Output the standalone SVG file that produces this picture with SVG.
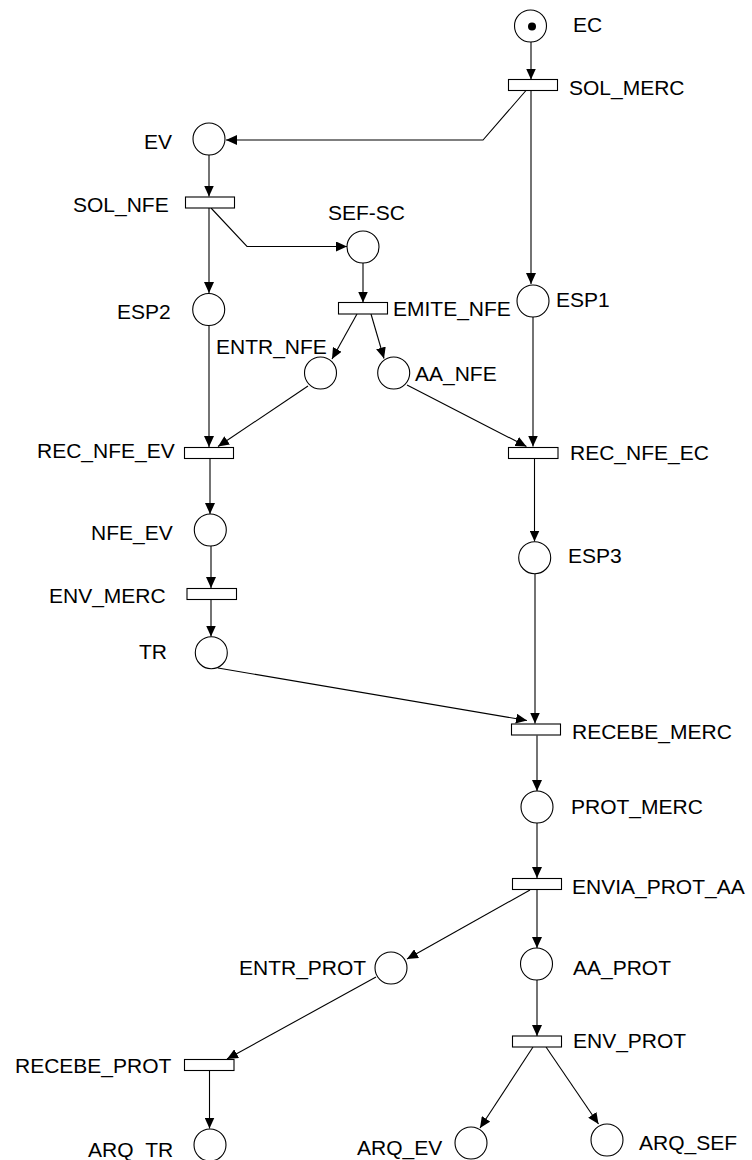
<svg xmlns="http://www.w3.org/2000/svg" width="752" height="1160" viewBox="0 0 752 1160">
  <style>
    .place { fill: #fff; stroke: #000; stroke-width: 1.1; }
    .trans { fill: #fff; stroke: #000; stroke-width: 1.1; }
    .token { fill: #000; }
    .lbl { font-family: "Liberation Sans", Arial, sans-serif; font-size: 21px; fill: #000; }
    .arc { fill: none; stroke: #000; stroke-width: 1.1; marker-end: url(#arrow); }
  </style>
  <defs>
    <marker id="arrow" viewBox="0 0 11 10" refX="11" refY="5" markerUnits="userSpaceOnUse" markerWidth="11" markerHeight="10" orient="auto">
      <path d="M0,0 L11,5 L0,10 z" fill="#000"/>
    </marker>
  </defs>
  <rect width="752" height="1160" fill="#fff"/>

  <!-- arcs -->
  <g id="connectors">
    <line class="arc" x1="531" y1="42" x2="531" y2="79.5"/>
    <polyline class="arc" points="526,90.5 483,140 226,140"/>
    <line class="arc" x1="531" y1="90.5" x2="531" y2="284"/>
    <line class="arc" x1="209" y1="155" x2="209" y2="196.5"/>
    <line class="arc" x1="209" y1="208" x2="209" y2="293"/>
    <polyline class="arc" points="211,208 247,246.5 347,246.5"/>
    <line class="arc" x1="363" y1="263" x2="363" y2="302.5"/>
    <line class="arc" x1="357" y1="314" x2="332" y2="359"/>
    <line class="arc" x1="371" y1="314" x2="384" y2="358.5"/>
    <line class="arc" x1="209" y1="326" x2="209" y2="447"/>
    <line class="arc" x1="308" y1="386" x2="218" y2="446.5"/>
    <line class="arc" x1="407" y1="385" x2="526.5" y2="446.5"/>
    <line class="arc" x1="533" y1="317" x2="533" y2="446.5"/>
    <line class="arc" x1="210" y1="459" x2="210" y2="514"/>
    <line class="arc" x1="534.5" y1="459" x2="534.5" y2="541.5"/>
    <line class="arc" x1="211" y1="546" x2="211" y2="588"/>
    <line class="arc" x1="211" y1="600" x2="211" y2="636.5"/>
    <line class="arc" x1="218" y1="668" x2="527" y2="720.5"/>
    <line class="arc" x1="535" y1="574" x2="535" y2="723.5"/>
    <line class="arc" x1="537" y1="735.5" x2="537" y2="791"/>
    <line class="arc" x1="537" y1="823" x2="537" y2="878"/>
    <line class="arc" x1="530" y1="890" x2="407" y2="959"/>
    <line class="arc" x1="537" y1="890" x2="537" y2="948"/>
    <line class="arc" x1="376" y1="977" x2="227" y2="1059"/>
    <line class="arc" x1="537" y1="980" x2="537" y2="1036"/>
    <line class="arc" x1="209.5" y1="1071" x2="209.5" y2="1128.5"/>
    <line class="arc" x1="533" y1="1047" x2="480" y2="1128"/>
    <line class="arc" x1="546" y1="1047" x2="598.5" y2="1124"/>
  </g>

  <!-- places -->
  <g id="EC"><circle class="place" cx="530.5" cy="26" r="16"/><circle class="token" cx="532" cy="26.5" r="4"/><text class="lbl" x="573" y="32">EC</text></g>
  <g id="EV"><circle class="place" cx="209" cy="139" r="16"/><text class="lbl" x="144" y="149">EV</text></g>
  <g id="SEF-SC"><circle class="place" cx="363" cy="247" r="16"/><text class="lbl" x="328" y="220">SEF-SC</text></g>
  <g id="ESP2"><circle class="place" cx="208.7" cy="309.5" r="16"/><text class="lbl" x="117" y="319">ESP2</text></g>
  <g id="ESP1"><circle class="place" cx="533" cy="301" r="16"/><text class="lbl" x="556" y="307">ESP1</text></g>
  <g id="ENTR_NFE"><circle class="place" cx="320.5" cy="373" r="16"/><text class="lbl" x="216" y="354">ENTR_NFE</text></g>
  <g id="AA_NFE"><circle class="place" cx="393.7" cy="373" r="16"/><text class="lbl" x="415" y="381">AA_NFE</text></g>
  <g id="NFE_EV"><circle class="place" cx="210.3" cy="530" r="16"/><text class="lbl" x="91" y="540">NFE_EV</text></g>
  <g id="ESP3"><circle class="place" cx="534.7" cy="557.7" r="16"/><text class="lbl" x="568" y="563">ESP3</text></g>
  <g id="TR"><circle class="place" cx="211.3" cy="652.7" r="16"/><text class="lbl" x="139" y="659">TR</text></g>
  <g id="PROT_MERC"><circle class="place" cx="537" cy="807" r="16"/><text class="lbl" x="571" y="814">PROT_MERC</text></g>
  <g id="ENTR_PROT"><circle class="place" cx="391" cy="968" r="16"/><text class="lbl" x="239" y="975">ENTR_PROT</text></g>
  <g id="AA_PROT"><circle class="place" cx="536.5" cy="964" r="16"/><text class="lbl" x="573" y="975">AA_PROT</text></g>
  <g id="ARQ_TR"><circle class="place" cx="210" cy="1145" r="16"/><text class="lbl" x="88" y="1157">ARQ_TR</text></g>
  <g id="ARQ_EV"><circle class="place" cx="471" cy="1143" r="16"/><text class="lbl" x="357" y="1155">ARQ_EV</text></g>
  <g id="ARQ_SEF"><circle class="place" cx="607" cy="1140" r="16"/><text class="lbl" x="639" y="1150">ARQ_SEF</text></g>

  <!-- transitions -->
  <g id="SOL_MERC"><rect class="trans" x="508.5" y="79.5" width="49" height="11"/><text class="lbl" x="569" y="95">SOL_MERC</text></g>
  <g id="SOL_NFE"><rect class="trans" x="185.5" y="197" width="49" height="11"/><text class="lbl" x="73" y="212">SOL_NFE</text></g>
  <g id="EMITE_NFE"><rect class="trans" x="338.5" y="302.5" width="49" height="11.5"/><text class="lbl" x="393" y="316">EMITE_NFE</text></g>
  <g id="REC_NFE_EV"><rect class="trans" x="184.5" y="447.5" width="49" height="11"/><text class="lbl" x="37" y="458">REC_NFE_EV</text></g>
  <g id="REC_NFE_EC"><rect class="trans" x="508.5" y="447.5" width="49.5" height="11"/><text class="lbl" x="570" y="460">REC_NFE_EC</text></g>
  <g id="ENV_MERC"><rect class="trans" x="187" y="588.5" width="49.5" height="11"/><text class="lbl" x="49" y="603">ENV_MERC</text></g>
  <g id="RECEBE_MERC"><rect class="trans" x="511.5" y="724" width="49" height="11"/><text class="lbl" x="572" y="739">RECEBE_MERC</text></g>
  <g id="ENVIA_PROT_AA"><rect class="trans" x="512.5" y="878.5" width="49" height="11"/><text class="lbl" x="572" y="894">ENVIA_PROT_AA</text></g>
  <g id="ENV_PROT"><rect class="trans" x="512.5" y="1036" width="49" height="11"/><text class="lbl" x="573" y="1048">ENV_PROT</text></g>
  <g id="RECEBE_PROT"><rect class="trans" x="184.5" y="1059.5" width="49.5" height="11"/><text class="lbl" x="15" y="1073">RECEBE_PROT</text></g>
</svg>
